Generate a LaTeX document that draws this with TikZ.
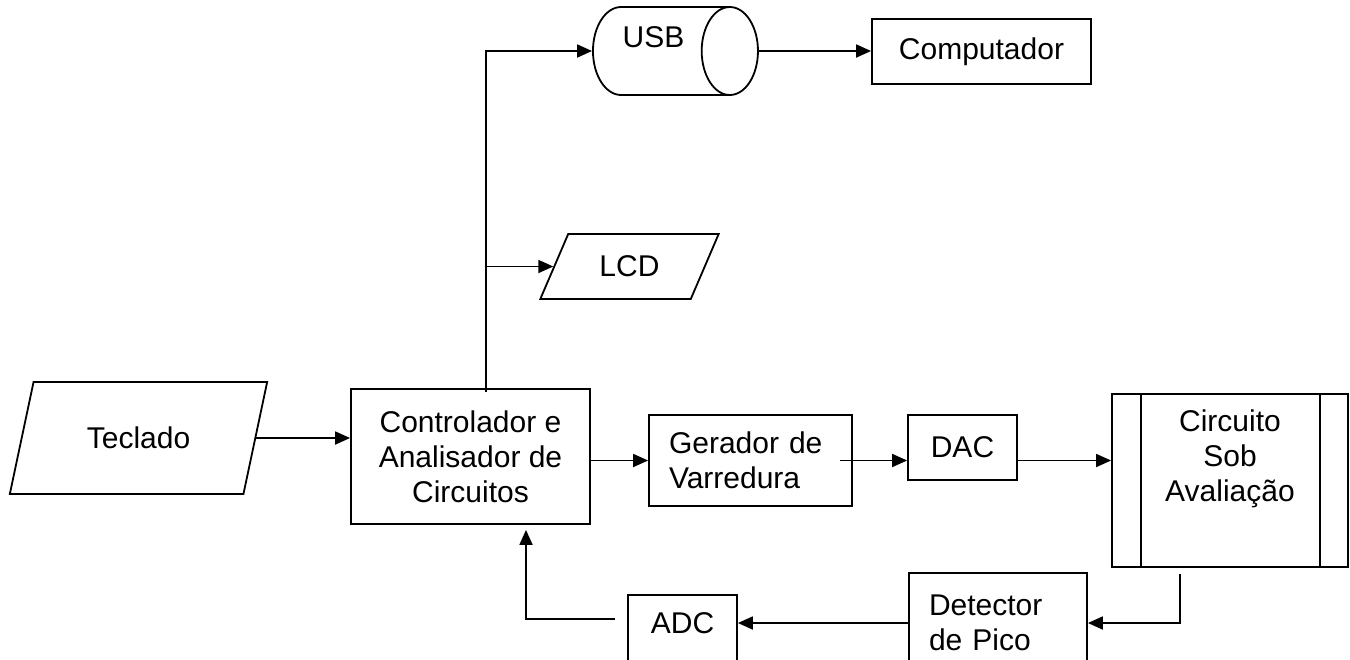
\documentclass[tikz,border=0pt]{standalone}
\usepackage{fontspec}
\setmainfont{Liberation Sans}
\usetikzlibrary{shapes.geometric,arrows.meta}

\begin{document}
\begin{tikzpicture}[x=0.5pt,y=-0.5pt,
    font=\fontsize{15pt}{17.5pt}\selectfont,
    line width=0.9pt,
    >={Triangle[length=7.5pt,width=6.5pt]},
    blk/.style={draw,align=center,inner sep=2pt},
    io/.style={draw,trapezium,trapezium stretches=true,inner sep=1pt},
    procbox/.style={blk,path picture={
        \draw ([xshift=14.5pt]path picture bounding box.north west)
          -- ([xshift=14.5pt]path picture bounding box.south west)
          ([xshift=-14pt]path picture bounding box.north east)
          -- ([xshift=-14pt]path picture bounding box.south east);}}]
  \useasboundingbox (0,0) rectangle (1350,659);
  \clip (0,0) rectangle (1350,659);

  \node[io,trapezium left angle=65,trapezium right angle=115,
    minimum width=129.5pt,minimum height=56pt] (tec) at (138.5,438) {Teclado};
  \node[blk,minimum width=119.5pt,minimum height=67.5pt] (ctl) at (470.5,456.5)
    {Controlador e\\Analisador de\\Circuitos};
  \node[draw,cylinder,aspect=0.9,minimum width=44pt,minimum height=82.5pt,
    text height=10.7pt,text depth=13.9pt] (usb) at (653.5,51) {USB};
  \node[blk,minimum width=109.5pt,minimum height=32.5pt] (cmp) at (981.5,51.5) {Computador};
  \node[io,trapezium left angle=60,trapezium right angle=120,
    minimum width=89.5pt,minimum height=32.5pt] (lcd) at (629.5,266.5) {LCD};
  \node[blk,align=left,text width=81.5pt,minimum width=101.5pt,minimum height=45.5pt]
    (ger) at (750.5,460.5) {Gerador de\\Varredura};
  \node[blk,minimum width=54.5pt,minimum height=32.5pt] (dac) at (962.5,447.5) {DAC};
  \node[procbox,minimum width=118pt,minimum height=86.5pt] (cir) at (1230,480.5)
    {Circuito\\Sob\\Avaliação\\[7pt]\mbox{}};
  \node[blk,align=left,text width=69pt,minimum width=89pt,minimum height=50pt]
    (det) at (998,623) {Detector\\de Pico};
  \node[blk,minimum width=54.5pt,minimum height=50pt,
    text height=10.7pt,text depth=22pt] (adc) at (682.5,645) {ADC};

  \coordinate (trk) at ([xshift=7.75pt,yshift=-2pt]ctl.north);
  \begin{scope}[->]
    \draw (tec.east) -- (tec.east -| ctl.west);
    \draw (trk) |- (usb.west);
    \draw (trk |- lcd.west) -- (lcd.west);
    \draw (usb.east) -- (usb.east -| cmp.west);
    \draw (ger.west -| ctl.east) -- (ger.west);
    \draw ([xshift=-6.5pt]ger.east) -- (ger.east -| dac.west);
    \draw (ger.east -| dac.east) -- (ger.east -| cir.west);
    \draw ([xshift=-25pt,yshift=-3pt]cir.south) |- (det.east);
    \draw (det.west) -- (det.west -| adc.east);
    \draw[shorten >=2.5pt] ([xshift=-6pt,yshift=-12.5pt]adc.north west)
      -| ([xshift=27.75pt]ctl.south);
  \end{scope}
\end{tikzpicture}
\end{document}
